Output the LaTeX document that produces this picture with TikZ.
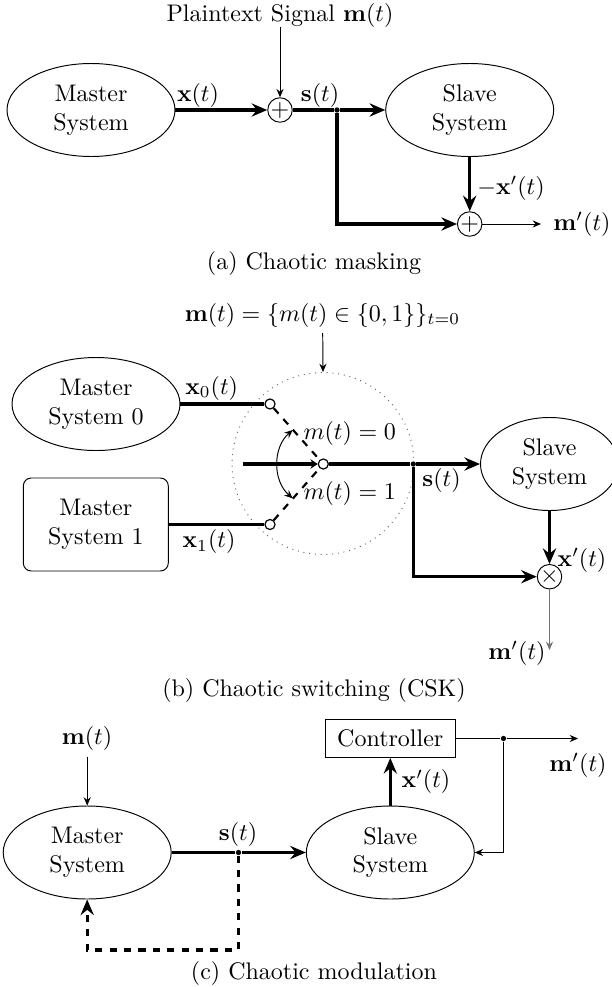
\documentclass[tikz,border=0pt]{standalone}
\usetikzlibrary{shapes.geometric,arrows.meta}
\begin{document}
\begin{tikzpicture}[x=0.41667pt,y=-0.41667pt,
  sys/.style={draw, ellipse, minimum width=70pt, minimum height=38.75pt, inner sep=0pt, align=center},
  sumnode/.style={draw, circle, inner sep=0pt},
  contact/.style={draw, circle, fill=white, inner sep=0pt, minimum size=4.2pt, line width=0.5pt},
  jdot/.style={circle, fill, inner sep=0pt, minimum size=2.2pt},
  thickline/.style={line width=1.3pt},
  sig/.style={line width=1.3pt, -{Stealth[length=6.5pt,width=5.5pt,inset=2.2pt]}},
  dashsig/.style={line width=1.3pt, dashed, -{Stealth[length=6.5pt,width=5.5pt,inset=2.2pt]}},
  thinarrow/.style={line width=0.4pt, -{Stealth[length=3.5pt,width=3pt,inset=1.2pt]}},
  swline/.style={line width=0.9pt, dashed},
  lbl/.style={inner sep=0pt}]
\useasboundingbox (0,0) rectangle (611,987);

% ---------- (a) ----------
\node[sys] (ma) at (91,110) {Master\\System};
\node[sys] (sa) at (469.7,110) {Slave\\System};
\node[sumnode] (p1) at (280,110) {$+$};
\node[sumnode] (p2) at (469.7,224) {$+$};
\node[lbl] (pt) at (280,15) {Plaintext Signal $\mathbf{m}(t)$};
\coordinate (pta) at (280,27);
\draw[thinarrow] (pta) -- (p1);
\node[jdot] (da) at (337,110) {};
\draw[sig] (ma) -- (p1);
\draw[thickline] (p1) -- (da);
\draw[sig] (da) -- (sa);
\draw[sig] (da) |- (p2);
\draw[sig] (sa) -- (p2);
\coordinate (ea) at (541,224);
\draw[thinarrow] (p2) -- (ea);
\node[lbl] (lxa) at (198,95) {$\mathbf{x}(t)$};
\node[lbl] (lsa) at (320,95) {$\mathbf{s}(t)$};
\node[lbl] (lxpa) at (511,188) {$-\mathbf{x}'(t)$};
\node[lbl] (lma) at (582,224) {$\mathbf{m}'(t)$};
\node[lbl] (capa) at (314,263) {(a) Chaotic masking};

% ---------- (b) ----------
\node[lbl] (mb) at (322.5,315) {$\mathbf{m}(t)=\{m(t)\in\{0,1\}\}_{t=0}$};
\coordinate (mba) at (322.7,333);
\node[draw=black!60, circle, dotted, inner sep=0pt, minimum size=75.8pt] (sw) at (323,463.5) {};
\draw[thinarrow] (mba) -- (sw.north);
\node[sys] (m0) at (96,404) {Master\\System 0};
\node[draw, rounded corners=3.3pt, minimum width=60.4pt, minimum height=38.75pt, align=center, inner sep=0pt] (m1) at (95.8,524.5) {Master\\System 1};
\node[contact] (c0) at (270,404) {};
\node[contact] (c1) at (270,524.5) {};
\node[contact] (cc) at (323.3,464) {};
\coordinate (inb) at (242.7,464);
\node[jdot] (db) at (413.3,464) {};
\node[sys, minimum width=57.5pt] (sb) at (549.5,464) {Slave\\System};
\node[sumnode] (xb) at (549.5,576.7) {$\times$};
\draw[thickline] (m0) -- (c0);
\draw[thickline] (m1) -- (c1);
\draw[swline] (c0) -- (cc);
\draw[swline] (c1) -- (cc);
\draw[line width=1.3pt, -{Stealth[length=3pt,width=4pt,inset=1pt]}] (inb) -- (cc);
\draw[thickline] (cc) -- (db);
\draw[sig] (db) -- (sb);
\draw[sig] (db) |- (xb);
\draw[sig] (sb) -- (xb);
\coordinate (eb) at (549.5,650);
\draw[thinarrow, draw=black!55] (xb) -- (eb);
\coordinate (arct) at (292.7,430);
\coordinate (arcb) at (292.7,498.3);
\draw[line width=0.4pt, {Stealth[length=3.5pt,width=3pt,inset=1.2pt]}-{Stealth[length=3.5pt,width=3pt,inset=1.2pt]}] (arct) to[bend right=49] (arcb);
\node[lbl] (lx0) at (211.7,388) {$\mathbf{x}_0(t)$};
\node[lbl] (lx1) at (209,541.7) {$\mathbf{x}_1(t)$};
\node[lbl] (lm0) at (349.7,433.3) {$m(t)=0$};
\node[lbl] (lm1) at (349.7,493.3) {$m(t)=1$};
\node[lbl] (lsb) at (441.5,480) {$\mathbf{s}(t)$};
\node[lbl] (lxb) at (582,560) {$\mathbf{x}'(t)$};
\node[lbl] (lmb) at (517,653) {$\mathbf{m}'(t)$};
\node[lbl] (capb) at (314,690) {(b) Chaotic switching (CSK)};

% ---------- (c) ----------
\node[lbl] (mcl) at (87,738.3) {$\mathbf{m}(t)$};
\coordinate (mca) at (87.2,756.7);
\node[sys] (mac) at (87.2,852.5) {Master\\System};
\draw[thinarrow] (mca) -- (mac);
\node[sys] (sc) at (390.3,852.5) {Slave\\System};
\node[draw, minimum width=54.2pt, minimum height=15.8pt, inner sep=0pt] (ctl) at (390.3,738.5) {Controller};
\node[jdot] (dc) at (238.5,852.5) {};
\draw[thickline] (mac) -- (dc);
\draw[sig] (dc) -- (sc);
\draw[sig] (sc) -- (ctl);
\node[jdot] (dc2) at (503.5,738.5) {};
\draw[line width=0.4pt] (ctl) -- (dc2);
\coordinate (ec) at (578,738.5);
\draw[thinarrow] (dc2) -- (ec);
\draw[thinarrow] (dc2) |- (sc);
\coordinate (fbc) at (238.5,950);
\draw[dashsig] (dc) -- (fbc) -| (mac.south);
\node[lbl] (lsc) at (238,834) {$\mathbf{s}(t)$};
\node[lbl] (lxc) at (426,781.7) {$\mathbf{x}'(t)$};
\node[lbl] (lmc) at (578,765) {$\mathbf{m}'(t)$};
\node[lbl] (capc) at (314,973) {(c) Chaotic modulation};
\end{tikzpicture}
\end{document}
